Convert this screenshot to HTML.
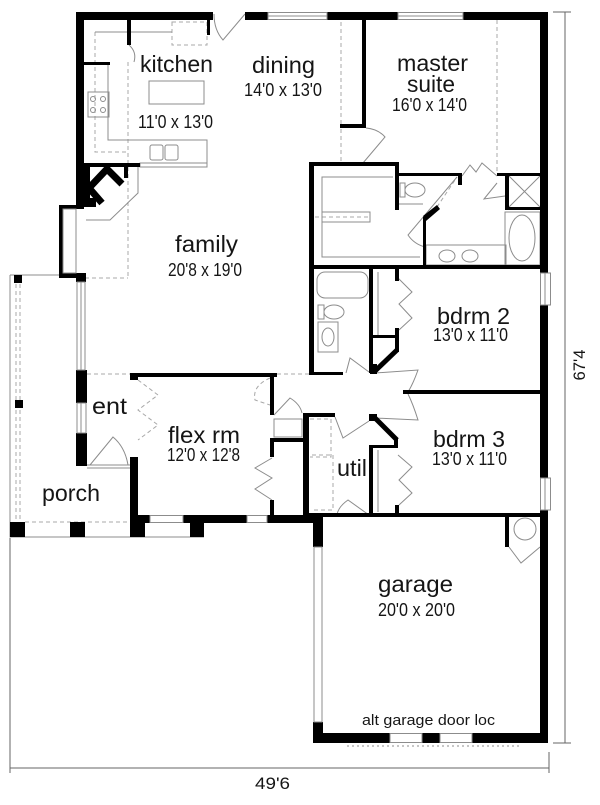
<!DOCTYPE html>
<html><head><meta charset="utf-8"><style>
html,body{margin:0;padding:0;background:#fff;}
svg{display:block;}
text{font-family:"Liberation Sans",Arial,sans-serif;fill:#151515;}
</style></head><body>
<svg width="600" height="805" viewBox="0 0 600 805" xmlns="http://www.w3.org/2000/svg">
<rect width="600" height="805" fill="#fff"/>

<g fill="none" stroke="#a8a8a8" stroke-width="1" stroke-dasharray="4,3">
  <path d="M128,62 V278 M85,278 H128"/>
  <path d="M341,22 V124 M341,129 V162"/>
  <path d="M497,20 V173"/>
  <path d="M87,374 H133 M277,374 H309"/>
  <path d="M73,210 V272"/>
  <path d="M172,22 H207 V45 H172 Z"/>
  <path d="M95,32 V152 H127"/>
  <path d="M16,284 V520 M20,284 V520"/>
  <path d="M25,522 H130"/>
  <path d="M315,217 H370"/>
  <path d="M310,419 H331 V457 H310 M312,455 H333 V510 H312"/>
  <path d="M270,378 Q252,386 255,400 L270,405"/>
  <path d="M138,380 L158,395 L138,410 L158,425 L138,440"/>
  <path d="M437,207 L457,177"/>
</g>

<g fill="none" stroke="#8c8c8c" stroke-width="1">
  <path d="M95,32 H172"/>
  <path d="M108,65 V140 H207 V163"/>
  <rect x="88" y="92" width="21" height="25"/>
  <circle cx="93" cy="99" r="2.5"/><circle cx="103" cy="99" r="2.5"/>
  <circle cx="93" cy="110" r="2.5"/><circle cx="103" cy="110" r="2.5"/>
  <rect x="150" y="145" width="13" height="15" rx="2"/>
  <rect x="165" y="145" width="13" height="15" rx="2"/>
  <rect x="149" y="81" width="55" height="23"/>
  <rect x="140" y="163" width="67" height="4"/>
  <path d="M129,45 Q137,52 134,62"/>
  <path d="M86,220 H110 L138,193 V166"/>
  <path d="M245,14 L223,40 Q214,30 214,14"/>
  <path d="M363,163 L385,137 Q378,129 366,128"/>
  <path d="M457,177 L408,235 Q414,244 425,247"/>
  <path d="M462,176 L470,165 L476,172 L482,163 L497,176"/>
  <path d="M505,196 L484,199 L497,183"/>
  <path d="M90,465 L113,437 Q125,447 128,465"/>
  <path d="M87,465 H130 M87,468 H130"/>
  <path d="M346,373 L350,358 L369,372"/>
  <path d="M375,373 L418,370 Q413,384 408,392"/>
  <path d="M375,418 L418,420 Q413,404 408,394"/>
  <path d="M274,415 L290,398 Q300,404 302,413"/>
  <path d="M369,421 L343,438 L335,417"/>
  <path d="M369,515 L348,500 Q338,507 337,515"/>
  <path d="M509,547 L521,563 L540,547"/>
  <path d="M272,458 L255,468 L272,478 L255,489 L272,500"/>
  <path d="M398,278 L412,292 L399,304 L412,318 L399,330"/>
  <path d="M398,455 L412,467 L399,480 L412,493 L399,505"/>
  <path d="M378,272 V335 M378,450 V512"/>
  <path d="M393,177 H322 V257 H420"/>
  <path d="M322,212 H370 V222 H322"/>
  <path d="M399,204 H423"/>
  <ellipse cx="415" cy="190" rx="10" ry="7"/>
  <rect x="400" y="183" width="5" height="14"/>
  <rect x="426" y="245" width="80" height="20"/>
  <ellipse cx="447" cy="256" rx="8" ry="6"/>
  <ellipse cx="470" cy="256" rx="8" ry="6"/>
  <rect x="505" y="212" width="35" height="53"/>
  <ellipse cx="522" cy="238" rx="13" ry="23"/>
  <path d="M509,176 L540,207 M540,176 L509,207"/>
  <rect x="317" y="272" width="51" height="26" rx="8"/>
  <ellipse cx="334" cy="312" rx="10" ry="7"/>
  <rect x="318" y="305" width="6" height="14"/>
  <rect x="318" y="322" width="20" height="30"/>
  <ellipse cx="328" cy="337" rx="6" ry="9"/>
  <rect x="274" y="419" width="28" height="18"/>
  <circle cx="525" cy="529" r="11"/>
  <path d="M10,275 H59 M10,275 V537 H204"/>
  <path d="M347,746 H520" stroke-dasharray="2,3"/>
</g>

<g fill="#000">
  <rect x="76" y="12" width="137" height="8"/>
  <rect x="245" y="12" width="23" height="8"/>
  <rect x="327" y="12" width="71" height="8"/>
  <rect x="463" y="12" width="85" height="8"/>
  <rect x="76" y="12" width="8" height="197"/>
  <rect x="59" y="205" width="25" height="4"/>
  <rect x="59" y="205" width="4" height="73"/>
  <rect x="59" y="273" width="27" height="5"/>
  <rect x="76" y="273" width="10" height="9"/>
  <rect x="76" y="370" width="11" height="33"/>
  <rect x="76" y="433" width="11" height="33"/>
  <rect x="127" y="20" width="4" height="25"/>
  <rect x="207" y="20" width="3" height="15"/>
  <rect x="84" y="62" width="26" height="3"/>
  <rect x="84" y="163" width="56" height="4"/>
  <rect x="84" y="163" width="6" height="44"/>
  <rect x="84" y="198" width="12" height="9"/>
  <rect x="124" y="165" width="4" height="13"/>
  <rect x="362" y="20" width="4" height="108"/>
  <rect x="340" y="124" width="26" height="4"/>
  <rect x="309" y="162" width="90" height="4"/>
  <rect x="309" y="162" width="5" height="213"/>
  <rect x="395" y="162" width="4" height="48"/>
  <rect x="395" y="173" width="67" height="3"/>
  <rect x="458" y="173" width="4" height="12"/>
  <rect x="497" y="173" width="43" height="3"/>
  <rect x="505" y="173" width="4" height="37"/>
  <rect x="505" y="207" width="35" height="3"/>
  <polygon points="423,216 437,205 440,209 426,221"/>
  <rect x="423" y="217" width="3" height="50"/>
  <rect x="309" y="265" width="239" height="4"/>
  <rect x="540" y="12" width="8" height="261"/>
  <rect x="540" y="305" width="8" height="173"/>
  <rect x="540" y="510" width="8" height="233"/>
  <rect x="309" y="372" width="34" height="3"/>
  <rect x="369" y="269" width="4" height="104"/>
  <rect x="369" y="335" width="29" height="3"/>
  <rect x="395" y="269" width="4" height="12"/>
  <rect x="395" y="328" width="4" height="24"/>
  <rect x="370" y="364" width="7" height="10"/>
  <rect x="403" y="390" width="145" height="4"/>
  <rect x="369" y="414" width="8" height="7"/>
  <rect x="394" y="438" width="4" height="10"/>
  <rect x="369" y="445" width="29" height="3"/>
  <rect x="369" y="445" width="4" height="72"/>
  <rect x="395" y="505" width="4" height="10"/>
  <rect x="303" y="413" width="6" height="104"/>
  <rect x="303" y="413" width="32" height="4"/>
  <rect x="133" y="373" width="144" height="4"/>
  <rect x="130" y="373" width="8" height="7"/>
  <rect x="130" y="457" width="8" height="66"/>
  <rect x="130" y="515" width="15" height="22"/>
  <rect x="270" y="373" width="4" height="42"/>
  <rect x="270" y="438" width="35" height="4"/>
  <rect x="270" y="438" width="4" height="19"/>
  <rect x="270" y="500" width="4" height="17"/>
  <rect x="130" y="515" width="20" height="8"/>
  <rect x="183" y="515" width="64" height="8"/>
  <rect x="190" y="515" width="14" height="22"/>
  <rect x="267" y="515" width="56" height="8"/>
  <rect x="303" y="513" width="245" height="4"/>
  <rect x="313" y="513" width="10" height="34"/>
  <rect x="313" y="722" width="10" height="21"/>
  <rect x="313" y="733" width="77" height="10"/>
  <rect x="422" y="733" width="18" height="10"/>
  <rect x="472" y="733" width="76" height="10"/>
  <rect x="505" y="517" width="4" height="30"/>
  <rect x="14" y="275" width="8" height="8"/>
  <rect x="15" y="400" width="8" height="8"/>
  <rect x="10" y="522" width="15" height="15"/>
  <rect x="70" y="522" width="15" height="15"/>
</g>
<g fill="none" stroke="#000" stroke-width="7">
  <path d="M89,188 L107,169 L122,184 M89,188 L102,203"/>
</g>
<g fill="none" stroke="#000" stroke-width="5">
  <path d="M374,372 L397,350"/>
  <path d="M374,417 L397,440"/>
</g>

<g fill="#fff" stroke="#8c8c8c" stroke-width="1">
  <rect x="268" y="12.5" width="59" height="7"/>
  <rect x="398" y="12.5" width="65" height="7"/>
  <rect x="63" y="209" width="13" height="64"/>
  <rect x="77" y="282" width="8" height="88"/>
  <rect x="77" y="403" width="9" height="30"/>
  <rect x="540.5" y="273" width="10" height="32"/>
  <rect x="540.5" y="478" width="10" height="32"/>
  <rect x="150" y="515.5" width="33" height="7"/>
  <rect x="247" y="515.5" width="20" height="7"/>
  <rect x="314" y="547" width="8" height="175"/>
  <rect x="390" y="733.5" width="32" height="9"/>
  <rect x="440" y="733.5" width="32" height="9"/>
</g>
<g fill="none" stroke="#8c8c8c" stroke-width="1">
  <path d="M268,16 H327 M398,16 H463 M81,282 V370 M81,403 V433 M545,273 V305 M545,478 V510"/>
</g>

<g fill="none" stroke="#666" stroke-width="1">
  <path d="M565,12 V743 M553,12 H571 M553,743 H571"/>
  <path d="M10,768 H549 M549,752 V773 M10,538 V773"/>
</g>

<g>
  <text x="140" y="72" font-size="23" textLength="73" lengthAdjust="spacingAndGlyphs">kitchen</text>
  <text x="138" y="128" font-size="18" textLength="75" lengthAdjust="spacingAndGlyphs">11'0 x 13'0</text>
  <text x="252" y="73" font-size="23" textLength="63" lengthAdjust="spacingAndGlyphs">dining</text>
  <text x="244" y="96" font-size="18" textLength="78" lengthAdjust="spacingAndGlyphs">14'0 x 13'0</text>
  <text x="397" y="71" font-size="23" textLength="71" lengthAdjust="spacingAndGlyphs">master</text>
  <text x="407" y="92" font-size="23" textLength="48" lengthAdjust="spacingAndGlyphs">suite</text>
  <text x="392" y="111" font-size="18" textLength="75" lengthAdjust="spacingAndGlyphs">16'0 x 14'0</text>
  <text x="175" y="252" font-size="23" textLength="63" lengthAdjust="spacingAndGlyphs">family</text>
  <text x="168" y="276" font-size="18" textLength="74" lengthAdjust="spacingAndGlyphs">20'8 x 19'0</text>
  <text x="437" y="324" font-size="23" textLength="73" lengthAdjust="spacingAndGlyphs">bdrm 2</text>
  <text x="433" y="341" font-size="18" textLength="75" lengthAdjust="spacingAndGlyphs">13'0 x 11'0</text>
  <text x="433" y="447" font-size="23" textLength="72" lengthAdjust="spacingAndGlyphs">bdrm 3</text>
  <text x="432" y="465" font-size="18" textLength="75" lengthAdjust="spacingAndGlyphs">13'0 x 11'0</text>
  <text x="337" y="476" font-size="23" textLength="30" lengthAdjust="spacingAndGlyphs">util</text>
  <text x="92" y="414" font-size="23" textLength="35" lengthAdjust="spacingAndGlyphs">ent</text>
  <text x="168" y="443" font-size="23" textLength="72" lengthAdjust="spacingAndGlyphs">flex rm</text>
  <text x="167" y="461" font-size="18" textLength="73" lengthAdjust="spacingAndGlyphs">12'0 x 12'8</text>
  <text x="42" y="501" font-size="23" textLength="58" lengthAdjust="spacingAndGlyphs">porch</text>
  <text x="378" y="592" font-size="23" textLength="75" lengthAdjust="spacingAndGlyphs">garage</text>
  <text x="378" y="616" font-size="18" textLength="77" lengthAdjust="spacingAndGlyphs">20'0 x 20'0</text>
  <text x="362" y="725" font-size="15" textLength="133" lengthAdjust="spacingAndGlyphs">alt garage door loc</text>
  <text x="255" y="789" font-size="17" textLength="35" lengthAdjust="spacingAndGlyphs">49'6</text>
  <text transform="translate(585,365) rotate(-90)" x="0" y="0" font-size="17" text-anchor="middle" textLength="31" lengthAdjust="spacingAndGlyphs">67'4</text>
</g>
</svg>
</body></html>
